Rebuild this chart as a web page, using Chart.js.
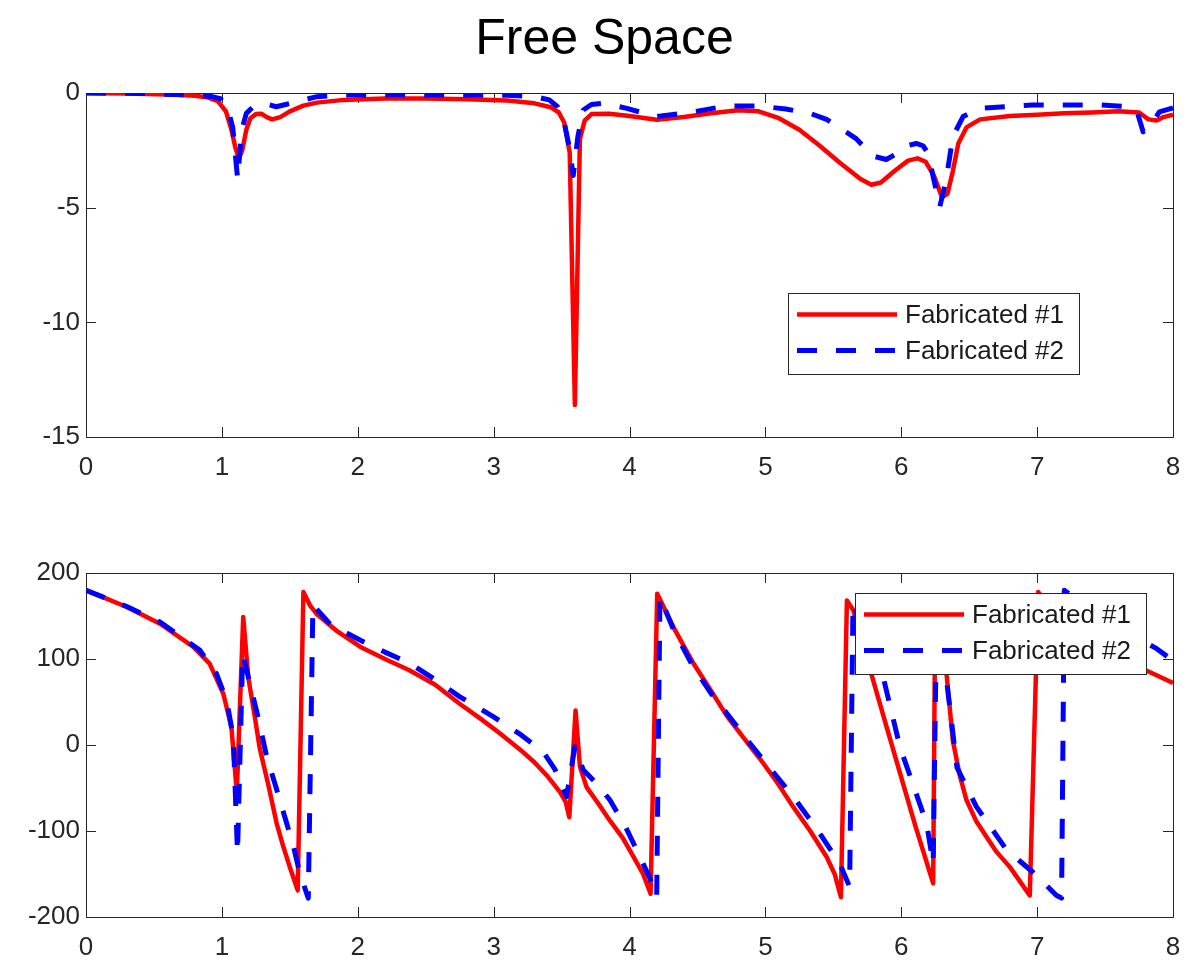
<!DOCTYPE html>
<html>
<head>
<meta charset="utf-8">
<script src="https://cdn.jsdelivr.net/npm/chart.js@4.4.1/dist/chart.umd.min.js"></script>
<style>
  body { margin: 0; background: #fff; }
  #wrap { position: relative; width: 1202px; height: 963px; }
  #title {
    position: absolute; left: 0; top: 8px; width: 1209px;
    text-align: center; line-height: 1;
    font: 50px "Liberation Sans", Arial, sans-serif; color: #000;
  }
  canvas { position: absolute; left: 0; }
</style>
</head>
<body>
<div id="wrap">
  <div id="title">Free Space</div>
  <canvas id="magChart" width="1202" height="500" style="top:0"></canvas>
  <canvas id="phaseChart" width="1202" height="463" style="top:500px"></canvas>
</div>
<script>
const seriesNames = ["Fabricated #1", "Fabricated #2"];
const xTicks = [0, 1, 2, 3, 4, 5, 6, 7, 8];
const magTicks = [0, -5, -10, -15];
const phaseTicks = [200, 100, 0, -100, -200];

// magnitude, sample #1
const magX1 = [0, 0.3, 0.6, 0.8, 0.9, 0.97, 1.03, 1.07, 1.1, 1.125, 1.15, 1.18, 1.21, 1.25, 1.29, 1.33, 1.37, 1.43, 1.5, 1.6, 1.7, 1.9, 2.2, 2.5, 2.8, 3.1, 3.3, 3.42, 3.48, 3.52, 3.56, 3.598, 3.635, 3.67, 3.72, 3.85, 4.0, 4.2, 4.4, 4.6, 4.8, 4.95, 5.1, 5.25, 5.4, 5.55, 5.7, 5.78, 5.85, 5.95, 6.05, 6.12, 6.18, 6.24, 6.3, 6.34, 6.38, 6.42, 6.48, 6.58, 6.8, 7.0, 7.2, 7.4, 7.6, 7.75, 7.82, 7.88, 7.93, 8.0];
const magY1 = [0, -0.02, -0.06, -0.12, -0.2, -0.35, -0.8, -1.6, -2.4, -2.85, -2.5, -1.6, -1.1, -0.92, -0.9, -1.05, -1.15, -1.05, -0.8, -0.55, -0.42, -0.3, -0.24, -0.24, -0.27, -0.33, -0.45, -0.62, -0.85, -1.3, -2.6, -13.6, -2.0, -1.2, -0.92, -0.9, -1.0, -1.17, -1.05, -0.88, -0.75, -0.8, -1.1, -1.6, -2.3, -3.05, -3.75, -4.0, -3.9, -3.4, -2.95, -2.85, -3.0, -3.6, -4.55, -4.4, -3.4, -2.2, -1.5, -1.15, -1.0, -0.95, -0.88, -0.85, -0.8, -0.85, -1.15, -1.2, -1.05, -0.95];

// magnitude, sample #2
const magX2 = [0, 0.4, 0.79, 0.92, 0.99, 1.04, 1.08, 1.116, 1.146, 1.18, 1.23, 1.28, 1.34, 1.4, 1.47, 1.55, 1.7, 1.9, 2.3, 2.8, 3.1, 3.3, 3.41, 3.47, 3.52, 3.555, 3.586, 3.62, 3.66, 3.72, 3.81, 3.98, 4.2, 4.47, 4.71, 4.96, 5.15, 5.33, 5.45, 5.57, 5.67, 5.79, 5.89, 5.95, 6.01, 6.11, 6.16, 6.2, 6.235, 6.284, 6.33, 6.38, 6.455, 6.58, 6.97, 7.46, 7.68, 7.74, 7.78, 7.82, 7.9, 8.0];
const magY2 = [0, -0.02, -0.09, -0.15, -0.25, -0.6, -1.5, -3.75, -1.62, -0.89, -0.6, -0.45, -0.5, -0.6, -0.5, -0.38, -0.16, -0.09, -0.08, -0.09, -0.1, -0.15, -0.3, -0.6, -1.3, -2.3, -3.6, -1.9, -0.74, -0.5, -0.45, -0.67, -1.03, -0.82, -0.57, -0.57, -0.7, -0.89, -1.15, -1.6, -2.0, -2.75, -2.9, -2.7, -2.35, -2.2, -2.3, -2.65, -3.65, -4.95, -3.8, -1.9, -1.03, -0.67, -0.52, -0.52, -0.6, -0.9, -1.69, -1.55, -0.82, -0.65];

// phase, sample #1
const phaseX1 = [0, 0.3, 0.545, 0.79, 0.91, 1.01, 1.07, 1.11, 1.157, 1.194, 1.24, 1.28, 1.34, 1.403, 1.45, 1.5, 1.558, 1.6, 1.65, 1.7, 1.85, 2.02, 2.2, 2.38, 2.57, 2.75, 2.9, 3.05, 3.2, 3.3, 3.4, 3.49, 3.53, 3.557, 3.603, 3.635, 3.684, 3.77, 3.856, 3.95, 4.03, 4.1, 4.155, 4.204, 4.33, 4.47, 4.6, 4.72, 4.89, 4.96, 5.08, 5.205, 5.33, 5.45, 5.51, 5.556, 5.6, 5.646, 5.77, 5.916, 6.1, 6.235, 6.25, 6.333, 6.38, 6.43, 6.48, 6.55, 6.628, 6.7, 6.8, 6.88, 6.946, 7.008, 7.05, 7.2, 7.4, 7.6, 7.8, 8.0];
const phaseY1 = [180, 160.5, 141, 114, 94.6, 59.8, 21, -55, 148.8, 79, 35, -5, -45, -91, -117, -142, -169, 178, 162, 152, 132, 114, 100, 87, 70, 48, 31, 13, -6, -20, -37, -55, -66, -84, 40, -25, -49, -68, -88, -108, -130, -150, -173, 176, 135, 95, 63, 33, -2, -16, -42, -72, -100, -130, -150, -177, 168, 157, 88, 8, -92, -161, 160, 83, 5, -35, -64, -88, -107, -124, -142, -160, -175, 178, 168, 140, 117, 100, 87, 72];

// phase, sample #2
const phaseX2 = [0, 0.3, 0.545, 0.839, 0.96, 1.035, 1.084, 1.115, 1.153, 1.207, 1.27, 1.33, 1.4, 1.477, 1.53, 1.575, 1.636, 1.67, 1.8, 2.016, 2.2, 2.384, 2.57, 2.752, 2.997, 3.2, 3.365, 3.45, 3.537, 3.598, 3.66, 3.76, 3.856, 3.97, 4.077, 4.15, 4.2, 4.224, 4.33, 4.469, 4.6, 4.75, 4.886, 5.05, 5.205, 5.38, 5.548, 5.62, 5.645, 5.7, 5.867, 5.99, 6.1, 6.186, 6.235, 6.26, 6.33, 6.41, 6.554, 6.775, 6.97, 7.143, 7.18, 7.2, 7.3, 7.5, 7.7, 7.88, 8.0];
const phaseY2 = [180, 161, 143, 110, 83, 52, 9, -126, 106, 71, 30, -14, -50, -91, -120, -150, -178, 163, 140, 122, 108, 95, 76, 56, 33, 12, -8, -28, -60, -2, -29, -45, -64, -95, -130, -155, -177, 172, 132, 91, 60, 30, 2, -30, -60, -98, -138, -165, 165, 140, 79, -2, -52, -91, -138, 150, 80, -26, -72, -122, -148, -175, -178, 180, 168, 148, 128, 112, 98];

const pairs = (xs, ys) => xs.map((x, i) => ({ x, y: ys[i] }));

const font = { family: '"Liberation Sans", Arial, sans-serif', size: 26 };
const axisColor = "#262626";

// box around the plot area with inward ticks on all four sides
const frame = {
  id: "frame",
  beforeDatasetsDraw(chart) {
    const { ctx, chartArea: a, scales } = chart;
    const len = 10;
    ctx.save();
    ctx.strokeStyle = axisColor;
    ctx.lineWidth = 1;
    ctx.beginPath();
    scales.x.ticks.forEach((t) => {
      const px = Math.round(scales.x.getPixelForValue(t.value)) + 0.5;
      ctx.moveTo(px, a.bottom);
      ctx.lineTo(px, a.bottom - len);
      ctx.moveTo(px, a.top);
      ctx.lineTo(px, a.top + len);
    });
    scales.y.ticks.forEach((t) => {
      const py = Math.round(scales.y.getPixelForValue(t.value)) + 0.5;
      ctx.moveTo(a.left, py);
      ctx.lineTo(a.left + len, py);
      ctx.moveTo(a.right, py);
      ctx.lineTo(a.right - len, py);
    });
    ctx.stroke();
    ctx.strokeRect(Math.round(a.left) + 0.5, Math.round(a.top) + 0.5,
      Math.round(a.right - a.left), Math.round(a.bottom - a.top));
    ctx.restore();
  },
};

// legend box drawn inside the plot, over the lines
const boxLegend = {
  id: "boxLegend",
  afterDatasetsDraw(chart, args, opts) {
    const { ctx, chartArea: a } = chart;
    const w = 291, h = 81;
    const left = Math.round(a.right - opts.right - w);
    const top = Math.round(a.top + opts.top);
    ctx.save();
    ctx.fillStyle = "#fff";
    ctx.fillRect(left, top, w, h);
    ctx.strokeStyle = axisColor;
    ctx.lineWidth = 1;
    ctx.strokeRect(left + 0.5, top + 0.5, w, h);
    chart.data.datasets.forEach((ds, i) => {
      const y = top + 21.5 + i * 36;
      ctx.beginPath();
      ctx.setLineDash(ds.borderDash || []);
      ctx.strokeStyle = ds.borderColor;
      ctx.lineWidth = ds.borderWidth;
      ctx.moveTo(left + 9, y);
      ctx.lineTo(left + 109, y);
      ctx.stroke();
      ctx.setLineDash([]);
      ctx.fillStyle = "#1a1a1a";
      ctx.font = `${font.size}px ${font.family}`;
      ctx.textBaseline = "middle";
      ctx.fillText(ds.label, left + 117, y + 1);
    });
    ctx.restore();
  },
};

const lines = (d1, d2) => [
  {
    label: seriesNames[0],
    data: d1,
    borderColor: "#ff0000",
    borderWidth: 4.5,
    order: 1,
  },
  {
    label: seriesNames[1],
    data: d2,
    borderColor: "#0000ff",
    borderWidth: 5,
    borderDash: [20, 19],
    order: 0,
  },
];

const makeOptions = (yTicks, padTop, xHeight, legendPos) => ({
  responsive: false,
  animation: false,
  devicePixelRatio: 1,
  layout: { padding: { top: padTop, right: 29, bottom: 0, left: 0 } },
  elements: {
    point: { radius: 0 },
    line: { tension: 0, borderJoinStyle: "round", fill: false },
  },
  plugins: {
    legend: { display: false },
    tooltip: { enabled: false },
    boxLegend: legendPos,
  },
  scales: {
    x: {
      type: "linear",
      min: xTicks[0],
      max: xTicks[xTicks.length - 1],
      grid: { display: false, drawTicks: false },
      border: { display: false },
      ticks: { color: axisColor, font, padding: 15, autoSkip: false, maxRotation: 0 },
      afterBuildTicks: (s) => { s.ticks = xTicks.map((v) => ({ value: v })); },
      afterFit: (s) => { s.height = xHeight; s.paddingLeft = 0; s.paddingRight = 0; },
    },
    y: {
      min: Math.min(...yTicks),
      max: Math.max(...yTicks),
      grid: { display: false, drawTicks: false },
      border: { display: false },
      ticks: { color: axisColor, font, padding: 6, autoSkip: false },
      afterBuildTicks: (s) => { s.ticks = yTicks.map((v) => ({ value: v })); },
      afterFit: (s) => { s.width = 86; s.paddingTop = 0; s.paddingBottom = 0; },
    },
  },
});

const magChart = new Chart(document.getElementById("magChart").getContext("2d"), {
  type: "line",
  data: { datasets: lines(pairs(magX1, magY1), pairs(magX2, magY2)) },
  options: makeOptions(magTicks, 93, 63, { right: 94, top: 200 }),
  plugins: [frame, boxLegend],
});

const phaseChart = new Chart(document.getElementById("phaseChart").getContext("2d"), {
  type: "line",
  data: { datasets: lines(pairs(phaseX1, phaseY1), pairs(phaseX2, phaseY2)) },
  options: makeOptions(phaseTicks, 73, 46, { right: 27, top: 20 }),
  plugins: [frame, boxLegend],
});
</script>
</body>
</html>
